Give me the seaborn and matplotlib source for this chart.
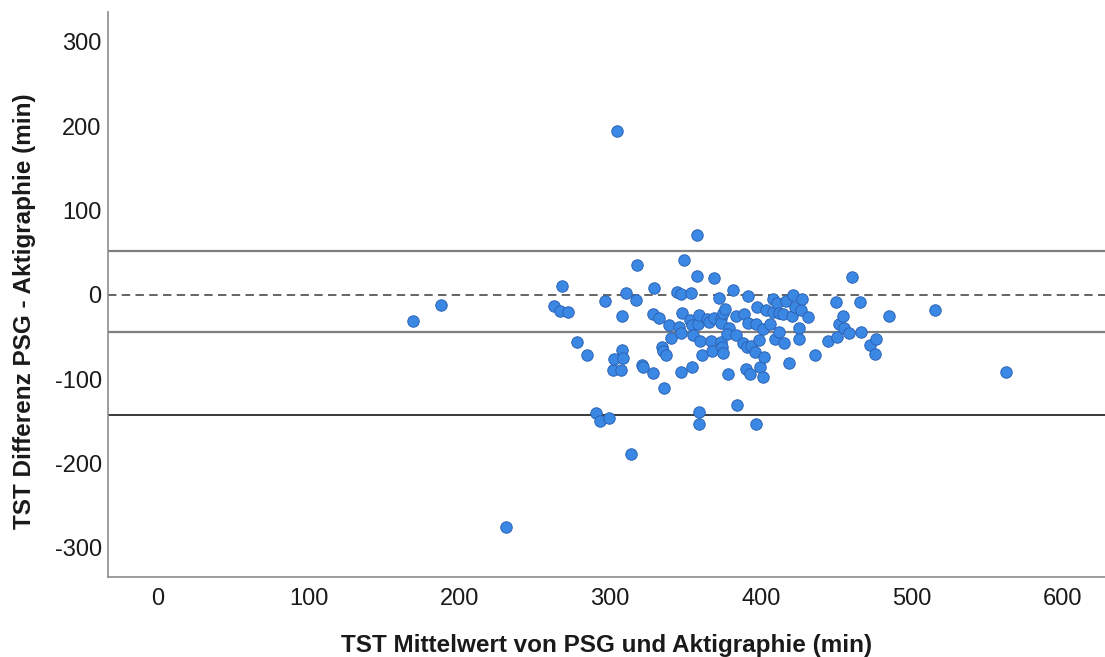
import matplotlib
matplotlib.use("Agg")
import matplotlib.pyplot as plt
import seaborn as sns
import pandas as pd

# Mean of PSG and actigraphy total sleep time (min)
tst_mean = [
    169.2, 187.8, 231.0, 304.6, 262.8, 267.1, 268.3, 272.1, 277.9, 284.4,
    291.0, 293.6, 296.8, 299.5, 301.9, 302.6, 307.5, 308.0, 308.2, 308.8,
    310.6, 313.9, 317.3, 318.1, 321.0, 321.9, 328.3, 328.7, 329.4, 332.5,
    334.7, 335.4, 336.0, 337.4, 339.4, 340.3, 344.5, 346.0, 346.8, 347.3,
    347.1, 348.1, 349.3, 353.1, 353.8, 354.1, 354.1, 355.3, 357.7, 357.9,
    358.6, 358.9, 358.9, 359.3, 359.7, 361.3, 364.4, 365.4, 367.0, 367.9,
    368.9, 369.0, 372.5, 373.5, 373.5, 373.7, 374.5, 375.2, 375.2, 376.5,
    378.3, 379.2, 377.8, 381.8, 383.6, 383.6, 384.5, 388.6, 388.5, 390.6,
    390.5, 391.3, 391.8, 392.6, 393.4, 396.2, 396.7, 397.1, 397.8, 399.1,
    399.4, 401.3, 401.7, 402.4, 403.5, 406.2, 408.0, 408.0, 409.8, 410.6,
    412.4, 412.4, 415.1, 415.6, 416.8, 418.5, 421.0, 421.3, 422.6, 425.6,
    425.6, 426.6, 427.2, 431.4, 436.3, 444.7, 450.2, 450.5, 452.0, 454.8,
    455.6, 458.4, 460.9, 466.1, 466.5, 472.7, 476.7, 475.9, 485.2, 515.6,
    562.8,
]

# Difference PSG - actigraphy total sleep time (min)
tst_diff = [
    -30.8, -11.9, -275.1, 194.5, -13.6, -18.6, 10.7, -20.2, -55.7, -71.1,
    -139.9, -149.8, -7.1, -145.9, -89.5, -75.9, -88.9, -65.2, -24.5, -75.1,
    2.7, -188.0, -5.9, 35.9, -83.0, -86.0, -22.5, -92.1, 8.1, -27.6,
    -61.7, -66.0, -110.5, -71.4, -35.6, -51.0, 3.2, -38.5, -45.4, 0.9,
    -91.1, -21.3, 41.1, -30.2, 2.0, -35.8, -85.0, -47.7, 22.9, 71.1,
    -35.0, -138.7, -152.6, -24.1, -54.2, -71.5, -28.5, -31.7, -54.2, -66.4,
    20.2, -27.3, -3.2, -27.3, -33.2, -55.4, -61.7, -68.4, -21.7, -16.6,
    -94.3, -39.5, -46.2, 5.6, -25.3, -47.8, -131.0, -22.5, -57.3, -61.3,
    -87.8, -33.6, -1.5, -94.3, -60.5, -67.2, -152.6, -34.4, -13.9, -53.4,
    -86.0, -40.0, -97.5, -73.9, -17.4, -34.0, -5.1, -19.8, -51.9, -9.1,
    -43.5, -21.7, -22.5, -57.3, -6.8, -80.3, -24.9, 0.0, -14.2, -39.4,
    -51.9, -17.8, -5.1, -26.7, -71.4, -55.1, -8.3, -49.8, -34.4, -24.9,
    -39.1, -44.5, 21.3, -8.7, -43.5, -58.9, -52.4, -70.3, -24.7, -17.4,
    -91.3,
]

# Bias and limits of agreement (min)
loa_upper = 52.4
bias = -44.2
loa_lower = -142.8

x_ticks = [0, 100, 200, 300, 400, 500, 600]
y_ticks = [-300, -200, -100, 0, 100, 200, 300]

df = pd.DataFrame({"mean": tst_mean, "diff": tst_diff})

sns.set_theme(style="white")
plt.rcParams["font.family"] = ["Liberation Sans", "DejaVu Sans"]
plt.rcParams["axes.unicode_minus"] = False

fig = plt.figure(figsize=(11.05, 6.57), dpi=100)
ax = fig.add_axes([0.0977, 0.1218, 0.9023, 0.86])

ax.axhline(loa_upper, color="#7f7f7f", lw=1.6, zorder=1)
ax.axhline(bias, color="#7f7f7f", lw=1.6, zorder=1)
ax.axhline(loa_lower, color="#3a3a3a", lw=1.4, zorder=1)
ax.axhline(0, color="#3a3a3a", lw=1.1, ls=(0, (5.5, 3.5)), zorder=1)

sns.scatterplot(data=df, x="mean", y="diff", ax=ax, s=68,
                color="#3b87e4", edgecolor="#2c64b6", linewidth=0.7,
                alpha=1.0, zorder=3, legend=False)

ax.set_xlim(-33.2, 628.5)
ax.set_ylim(-334.4, 335.6)
ax.set_xticks(x_ticks)
ax.set_yticks(y_ticks)
ax.tick_params(axis="both", length=0, labelsize=17, colors="#1a1a1a")
ax.tick_params(axis="x", pad=8)
ax.tick_params(axis="y", pad=4.5)

for side in ("top", "right"):
    ax.spines[side].set_visible(False)
for side in ("left", "bottom"):
    ax.spines[side].set_color("#8c8c8c")
    ax.spines[side].set_linewidth(1.2)

ax.set_xlabel("TST Mittelwert von PSG und Aktigraphie (min)", fontsize=17.5,
              fontweight="bold", color="#1a1a1a", labelpad=17)
ax.set_ylabel("TST Differenz PSG - Aktigraphie (min)", fontsize=17.5,
              fontweight="bold", color="#1a1a1a")
ax.yaxis.set_label_coords(-0.072, 0.47)

fig.savefig("out.png", dpi=100)
